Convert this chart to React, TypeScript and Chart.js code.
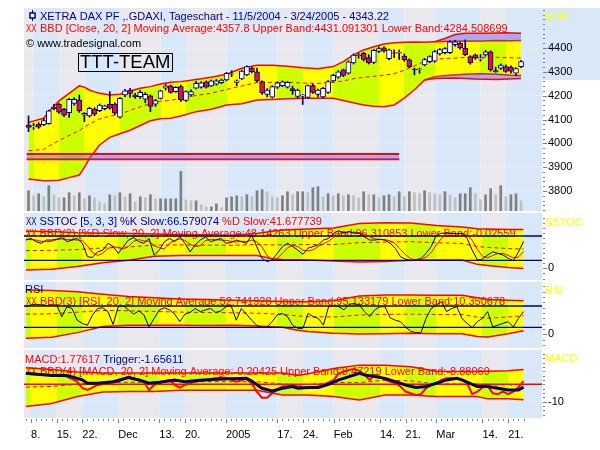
import React, { useEffect, useRef } from 'react';
import { Chart, registerables } from 'chart.js';
Chart.register(...registerables);

// ---------------- DATA ----------------
const xTickIndex = [1, 6, 11, 18, 26, 31, 39, 49, 54, 60, 69, 74, 80, 89, 94];
const xTickLabels = ['8.', '15.', '22.', 'Dec', '13.', '20.', '2005', '17.', '24.', 'Feb', '14.', '21.', 'Mar', '14.', '21.'];

const open = [4077,4070,4080,4078,4083,4152,4164,4143,4129,4167,4182,4118,4115,4144,4137,4145,4164,4165,4110,4203,4224,4203,4196,4185,4199,4164,4189,4231,4241,4217,4238,4180,4203,4231,4236,4258,4241,4248,4255,4266,4290,4256,4270,4287,4315,4300,4259,4205,4194,4236,4242,4236,4230,4197,4198,4193,4242,4205,4195,4214,4262,4278,4308,4294,4337,4370,4378,4360,4340,4386,4401,4355,4380,4378,4366,4350,4312,4310,4329,4343,4345,4375,4380,4380,4414,4420,4400,4364,4371,4355,4371,4384,4305,4315,4322,4320,4294,4322];
const high = [4115,4084,4087,4105,4140,4164,4168,4147,4188,4192,4203,4129,4152,4150,4165,4160,4217,4170,4192,4227,4231,4210,4222,4213,4203,4185,4223,4249,4245,4238,4245,4220,4225,4260,4258,4262,4266,4268,4270,4298,4305,4266,4308,4325,4320,4316,4262,4230,4242,4258,4262,4260,4240,4228,4205,4245,4248,4228,4235,4263,4290,4305,4312,4346,4375,4378,4382,4372,4395,4405,4405,4396,4392,4392,4375,4355,4316,4316,4357,4368,4390,4398,4402,4430,4432,4425,4434,4368,4375,4373,4390,4388,4320,4333,4330,4325,4318,4348];
const low = [4049,4059,4063,4074,4080,4140,4126,4112,4109,4160,4130,4091,4110,4116,4133,4140,4143,4120,4106,4196,4193,4188,4188,4170,4133,4155,4186,4224,4210,4214,4176,4176,4197,4228,4232,4232,4238,4244,4250,4262,4280,4242,4268,4284,4296,4258,4205,4195,4190,4230,4238,4232,4205,4190,4163,4190,4210,4195,4190,4210,4258,4273,4280,4290,4333,4357,4345,4333,4335,4380,4383,4350,4360,4352,4345,4318,4287,4294,4325,4338,4340,4370,4375,4376,4408,4395,4368,4332,4352,4345,4366,4303,4298,4310,4298,4295,4285,4318];
const close = [4067,4073,4068,4095,4136,4146,4131,4118,4185,4185,4136,4126,4147,4122,4161,4157,4148,4127,4189,4220,4210,4195,4214,4206,4155,4179,4220,4241,4214,4235,4182,4217,4217,4252,4254,4236,4262,4262,4266,4294,4292,4262,4303,4322,4301,4262,4212,4224,4238,4254,4258,4256,4221,4224,4203,4242,4214,4224,4231,4259,4285,4300,4285,4342,4370,4368,4352,4338,4390,4398,4388,4392,4378,4382,4350,4322,4308,4313,4352,4364,4385,4394,4398,4426,4426,4400,4372,4337,4358,4358,4384,4308,4300,4328,4302,4303,4314,4343.22];
const volume = [20,15,17,14,25,16,13,13,18,15,18,12,15,13,9,7,16,15,18,14,17,9,14,13,16,12,12,12,12,12,39,11,10,10,6,4,4,7,3,13,14,15,14,16,14,20,21,19,14,13,15,19,16,19,19,18,23,24,14,17,15,17,15,16,15,13,19,16,16,13,15,16,14,19,14,19,18,17,20,18,17,16,19,16,13,17,17,23,17,11,16,22,16,25,14,16,17,10];

// Bollinger band on price (sampled days)
const bandIdx = [0,3,4,6,8,10,11,12,13,14,16,18,20,22,24,26,28,30,33,36,39,42,45,48,51,54,57,60,62,64,66,68,70,72,74,76,78,80,83,86,89,92,95,97];
const bandUpper = [4088,4105,4133,4178,4210,4241,4236,4224,4216,4210,4203,4206,4220,4231,4238,4249,4256,4259,4268,4277,4290,4315,4328,4328,4324,4317,4313,4322,4343,4371,4392,4405,4417,4422,4424,4425,4424,4426,4428,4430,4430,4432,4431,4431.09];
const bandLower = [3850,3843,3843,3845,3856,3867,3899,3937,3965,3993,4025,4040,4055,4075,4095,4103,4105,4115,4133,4143,4161,4166,4182,4184,4187,4189,4189,4189,4180,4170,4161,4156,4154,4161,4190,4225,4266,4280,4286,4290,4292,4290,4286,4284.51];
const bandMid = [3969,3974,3988,4012,4033,4054,4068,4081,4091,4102,4114,4123,4138,4153,4167,4176,4181,4187,4201,4210,4226,4241,4255,4256,4256,4253,4251,4256,4262,4271,4277,4281,4286,4292,4307,4325,4345,4353,4357,4360,4361,4361,4359,4357.8];
const outerUpperIdx = [80, 82, 84, 86, 90, 94, 97];
const outerUpper = [4426, 4440, 4457, 4462, 4462, 4464, 4462];
const outerLowerIdx = [78, 80, 84, 88, 92, 97];
const outerLower = [4266, 4272, 4274, 4270, 4268, 4272];
const zoneLevels = [3955, 3933];
const zoneEnd = 73;

// Slow stochastic
const stochK = [70,74,66,62,70,70,72,76,66,70,74,62,29,27,41,45,62,54,37,54,70,76,66,62,74,33,45,66,74,66,78,62,41,58,70,78,66,70,74,62,64,70,66,62,82,54,25,17,21,37,54,62,54,45,35,50,54,58,70,74,87,93,87,91,87,87,78,70,70,72,70,62,50,29,23,19,21,25,37,54,82,87,87,87,85,87,74,45,21,23,33,41,37,33,25,19,40,66.58];
const stochD = [72,71,70,67,66,67,71,73,71,71,70,69,55,39,32,38,49,54,51,48,54,67,71,68,67,56,51,48,62,69,73,69,60,54,56,69,71,71,70,69,67,65,67,66,70,66,54,32,21,25,37,51,57,54,45,43,46,54,61,67,77,85,89,90,88,88,84,78,73,71,71,68,61,47,34,24,21,22,28,39,58,74,85,87,86,86,82,69,47,30,26,32,37,37,32,26,28,41.68];
const stochLevels = [80, 20];
const oscBandIdx = [0,5,10,15,20,25,30,35,40,45,48,50,55,60,65,70,75,80,85,88,90,94,97];
const stochUpper = [92,91,88,87,86,85,84,83,82,86,92,95,97,100,111,113,112,106,102,98,97,96,96.31];
const stochLower = [-4,-2,5,14,20,30,32,32,32,32,24,22,21,18,16,17,20,21,21,10,7,2,-0.03];
const stochMid = [44,44.5,46.5,50.5,53,57.5,58,57.5,57,59,58,58.5,59,59,63.5,65,66,63.5,61.5,54,52,49,48.14];

// RSI
const rsi = [78,83,85,83,81,83,83,50,78,73,40,31,26,55,73,75,64,28,78,81,69,57,66,55,21,45,69,75,69,57,36,57,62,73,64,69,73,62,66,78,81,40,73,57,40,26,19,20,36,55,59,50,26,17,17,59,50,45,26,78,81,78,69,85,87,83,64,50,69,78,78,47,40,36,21,9,5,5,45,73,83,92,64,73,78,45,31,19,36,45,64,21,26,31,36,21,45,64];
const rsiLevels = [80, 20];
const bandIdx2 = [0,5,10,15,20,25,30,35,40,45,50,53,55,60,65,70,75,80,85,88,90,94,97];
const rsiUpper = [125,124,120,113,107,103,100,98,96,95,93,92,92,95,108,111,111,110,110,103,98,96,95.13];
const rsiLower = [-11,-8,5,22,26,26,26,25,26,24,20,12,8,3,1,2,3,2,2,-6,-7,2,10.35];
const rsiMid = [57,58,62.5,67.5,66.5,64.5,63,61.5,61,59.5,56.5,52,50,49,54.5,56.5,57,56,56,48.5,45.5,49,52.74];

// MACD
const macdIdx = [0,1,4,7,8,10,11,12,14,16,18,20,21,23,24,25,27,28,29,30,31,33,35,37,39,41,43,44,45,46,47,48,50,52,53,55,57,58,60,61,63,64,65,66,67,68,69,70,72,73,74,76,77,78,79,80,81,82,84,85,86,87,88,89,90,91,92,93,94,95,96,97];
const macdVal = [6.3,5.7,5.4,5.0,4.4,1.5,-2.3,-3.3,-0.4,0.6,1.5,4.4,3.4,1.5,-3.3,-0.4,1.5,2.5,-0.4,-1.9,-0.4,1.5,2.5,3.4,3.8,1.5,3.1,0.6,-4.2,-7.7,-7.7,-5.2,-1.3,-0.8,-1.3,-2.3,-1.3,-0.4,2.5,6.3,8.2,8.8,7.7,5.4,2.5,5.4,4.4,2.5,0.6,-1.3,-4.2,-6.1,-5.7,-2.3,-0.4,0.6,2.5,3.4,3.4,2.5,0.6,-5.7,-4.2,-1.9,-0.8,-5.2,-5.7,-4.2,-5.7,-4.2,-1.9,1.78];
const trigIdx = [0,5,8,11,12,14,17,20,22,24,26,29,31,34,37,40,43,44,46,48,50,52,53,55,57,59,61,63,65,66,68,70,72,74,76,78,80,82,84,85,87,88,90,92,94,96,97];
const trigVal = [6.3,5.0,5.0,2.5,0.6,0.6,1.5,3.8,2.5,0.6,1.2,2.5,1.5,2.3,2.9,3.1,3.4,1.9,-2.3,-3.8,-2.3,-1.3,-2.3,-1.9,-1.9,0,2.5,4.4,6.3,5.4,4.4,3.4,1.5,-0.4,-1.9,-1.3,0.6,2.5,3.4,2.5,0,-1.3,-1.3,-2.3,-3.3,-3.3,-1.66];
const macdUpper = [9.5,8.5,7,6.5,6.5,6.5,6.5,6.5,6.5,6.5,6.5,5,6,9,11,11,10,7.5,7.3,7.3,7.5,7.8,8.47];
const macdLower = [-12.8,-11,-7,-4.5,-4.2,-4.2,-3.5,-3.5,-3.5,-3.5,-6.2,-6.2,-6.2,-7,-9.1,-6.2,-6.2,-7.1,-7.1,-7.1,-8.4,-8.4,-8.88];
const macdMid = [-1.65,-1.25,0,1,1.15,1.15,1.5,1.5,1.5,1.5,0.15,-0.6,-0.1,1,0.95,2.4,1.9,0.2,0.1,0.1,-0.45,-0.3,-0.2];
const macdZero = [0];

const priceTickLabels = [3800, 3900, 4000, 4100, 4200, 4300, 4400];

// ---------------- STYLE ----------------
const FAM = "'Liberation Sans', Arial, sans-serif";
const NAVY = '#000080';
const RED = '#FF0000';
const BODY_RED = '#DC143C';
const YELLOW = '#FFFF00';
const LIME = '#CCFF00';
const STRIPE_BLUE = '#D8E8F8';
const STRIPE_GRAY = '#E8E8EE';
const LAVENDER = 'rgba(110,110,235,0.5)';
const XMIN = -0.37;
const XMAX = 100.6;

const idx = close.map((_, i) => i);
const pts = (ix: number[], vals: number[]) => ix.map((x, k) => ({ x, y: vals[k] }));

function stripeFill(chart: any) {
  const { ctx, chartArea, scales } = chart;
  if (!chartArea || !scales || !scales.x) return YELLOW;
  const L = chartArea.left, R = chartArea.right, W = R - L;
  const g = ctx.createLinearGradient(L, 0, R, 0);
  const stops = xTickIndex.map((v) => Math.min(1, Math.max(0, (scales.x.getPixelForValue(v) - L) / W)));
  stops.push(1);
  let from = 0;
  let blue = false;
  for (const s of stops) {
    const col = blue ? YELLOW : LIME;
    g.addColorStop(from, col);
    g.addColorStop(s, col);
    from = s;
    blue = !blue;
  }
  return g;
}

const stripesPlugin = (extra?: (ctx: any, chart: any) => void) => ({
  id: 'stripes',
  beforeDraw(chart: any) {
    const { ctx, chartArea: a, scales } = chart;
    ctx.save();
    if (extra) extra(ctx, chart);
    let prev = a.left;
    let blue = false;
    for (const b of xTickIndex) {
      const px = scales.x.getPixelForValue(b);
      ctx.fillStyle = blue ? STRIPE_BLUE : STRIPE_GRAY;
      ctx.fillRect(prev, a.top, px - prev, a.bottom - a.top);
      prev = px;
      blue = !blue;
    }
    ctx.fillStyle = blue ? STRIPE_BLUE : STRIPE_GRAY;
    ctx.fillRect(prev, a.top, a.right - prev, a.bottom - a.top);
    ctx.restore();
  },
});

type Seg = { t: string; c: string };
type TextLine = { x: number; y: number; segs: Seg[]; size?: number; sx?: number };

// Legend texts are drawn right after the band fill (dataset 0), so the
// remaining lines cross over them as in the original.
const textPlugin = (lines: TextLine[], extra?: (ctx: any) => void) => ({
  id: 'panelText',
  afterDatasetDraw(chart: any, args: any) {
    if (args.index !== 0) return;
    const ctx = chart.ctx;
    ctx.save();
    ctx.textBaseline = 'alphabetic';
    ctx.textAlign = 'left';
    for (const ln of lines) {
      ctx.font = `${ln.size ?? 11}px ${FAM}`;
      ctx.save();
      ctx.translate(ln.x, ln.y);
      ctx.scale(ln.sx ?? 1, 1);
      let x = 0;
      for (const s of ln.segs) {
        ctx.fillStyle = s.c;
        ctx.fillText(s.t, x, 0);
        x += ctx.measureText(s.t).width;
      }
      ctx.restore();
    }
    if (extra) extra(ctx);
    ctx.restore();
  },
});

const tickMarks = (yId: string, majors: number[], withX: boolean) => ({
  id: 'tickMarks',
  afterDraw(chart: any) {
    const { ctx, chartArea: a } = chart;
    const ys = chart.scales[yId];
    ctx.save();
    ctx.fillStyle = '#808080';
    for (const t of ys.ticks) {
      const py = Math.round(ys.getPixelForValue(t.value));
      ctx.fillRect(Math.round(a.right) + 1, py, majors.includes(t.value) ? 4 : 2, 1);
    }
    if (withX) {
      const xs = chart.scales.x;
      for (const i of idx) {
        const px = Math.round(xs.getPixelForValue(i));
        ctx.fillRect(px, Math.round(a.bottom) + 1, 1, xTickIndex.includes(i) ? 4 : 2);
      }
    }
    ctx.restore();
  },
});

function xScale(show: boolean) {
  return {
    type: 'linear',
    min: XMIN,
    max: XMAX,
    display: show,
    afterBuildTicks: (s: any) => {
      s.ticks = idx.map((v) => ({ value: v }));
    },
    afterFit: (s: any) => {
      if (show) s.height = 32;
      s.paddingLeft = 0;
      s.paddingRight = 0;
    },
    ticks: {
      autoSkip: false,
      maxRotation: 0,
      minRotation: 0,
      align: 'start',
      padding: 10,
      color: '#000',
      font: { family: FAM, size: 11 },
      callback: (v: number) => {
        const k = xTickIndex.indexOf(v);
        return k < 0 ? '' : xTickLabels[k];
      },
    },
    grid: { display: false, drawOnChartArea: false, drawTicks: false },
    border: { display: false },
  };
}

function yAxis(min: number, max: number, start: number, step: number, labeled: number[]) {
  return {
    type: 'linear',
    position: 'right',
    min,
    max,
    bounds: 'data',
    afterBuildTicks: (s: any) => {
      const t: any[] = [];
      for (let k = 0; start + k * step <= max; k++) {
        const v = start + k * step;
        if (v >= min) t.push({ value: v });
      }
      s.ticks = t;
    },
    afterFit: (s: any) => {
      s.width = 58;
      s.paddingTop = 0;
      s.paddingBottom = 0;
    },
    ticks: {
      autoSkip: false,
      padding: 6,
      color: '#000',
      font: { family: FAM, size: 11 },
      callback: (v: number) => (labeled.includes(v) ? String(v) : ''),
    },
    grid: {
      drawTicks: false,
      drawOnChartArea: true,
      color: (c: any) => (c.tick && labeled.includes(c.tick.value) ? 'rgba(255,255,255,0.9)' : 'rgba(0,0,0,0)'),
    },
    border: { display: false, dash: [1, 3] },
  };
}

function baseOptions(topPad: number, scales: any) {
  return {
    responsive: false,
    maintainAspectRatio: false,
    animation: false,
    devicePixelRatio: 1,
    events: [],
    layout: { padding: { left: 24, right: 0, top: topPad, bottom: 0 } },
    plugins: { legend: { display: false }, tooltip: { enabled: false }, colors: { enabled: false } },
    elements: { point: { radius: 0 }, line: { tension: 0 } },
    scales,
  };
}

const lineDs = (label: string, data: any[], color: string, width: number, order: number, extra: any = {}) => ({
  type: 'line',
  label,
  data,
  borderColor: color,
  borderWidth: width,
  pointRadius: 0,
  fill: false,
  order,
  ...extra,
});

const bandFill = { fill: '+1', backgroundColor: (c: any) => stripeFill(c.chart) };
const levelLine = (v: number) => [
  { x: XMIN, y: v },
  { x: XMAX, y: v },
];

function mainConfig() {
  return {
    type: 'line',
    data: {
      datasets: [
        lineDs('Upper Band', pts(bandIdx, bandUpper), RED, 1.5, 10, bandFill),
        lineDs('Lower Band', pts(bandIdx, bandLower), RED, 1.5, 9),
        lineDs('Outer Upper', pts(outerUpperIdx, outerUpper), RED, 1.5, 8, { fill: { target: 0 }, backgroundColor: LAVENDER }),
        lineDs('Outer Lower', pts(outerLowerIdx, outerLower), RED, 1.5, 8, { fill: { target: 1 }, backgroundColor: LAVENDER }),
        lineDs('Zone Top', [{ x: XMIN, y: zoneLevels[0] }, { x: zoneEnd, y: zoneLevels[0] }], RED, 2, 7, { fill: '+1', backgroundColor: LAVENDER }),
        lineDs('Zone Bottom', [{ x: XMIN, y: zoneLevels[1] }, { x: zoneEnd, y: zoneLevels[1] }], RED, 2, 7),
        lineDs('Moving Average', pts(bandIdx, bandMid), RED, 1, 6, { borderDash: [4, 3] }),
        {
          type: 'bar',
          label: 'Volume',
          yAxisID: 'yVol',
          data: idx.map((i) => ({ x: i, y: volume[i] })),
          backgroundColor: idx.map((i) => (i === 0 || volume[i] >= volume[i - 1] ? '#808080' : '#C0C0C0')),
          barThickness: 2,
          grouped: false,
          order: 12,
        },
        {
          type: 'bar',
          label: 'Range',
          data: idx.map((i) => ({ x: i, y: [low[i], high[i]] })),
          backgroundColor: NAVY,
          barThickness: 1,
          grouped: false,
          order: 2,
        },
        {
          type: 'bar',
          label: 'Body',
          data: idx.map((i) => ({ x: i, y: [open[i], close[i]] })),
          backgroundColor: idx.map((i) => (close[i] >= open[i] ? '#FFFFFF' : BODY_RED)),
          borderColor: NAVY,
          borderWidth: 1,
          borderSkipped: false,
          barThickness: 5,
          grouped: false,
          order: 1,
        },
      ],
    },
    options: baseOptions(8, {
      x: xScale(false),
      y: yAxis(3716, 4568, 3720, 20, priceTickLabels),
      yVol: { type: 'linear', display: false, min: 0, max: 200 },
    }),
    plugins: [
      stripesPlugin((ctx: any, chart: any) => {
        const a = chart.chartArea;
        ctx.fillStyle = STRIPE_BLUE;
        ctx.fillRect(a.right, a.top, 600 - a.right, 72);
      }),
      textPlugin(
        [
          { x: 40, y: 20, segs: [{ t: 'XETRA DAX PF ,.GDAXI, Tageschart - 11/5/2004 - 3/24/2005 - 4343.22', c: NAVY }] },
          { x: 26, y: 32, segs: [{ t: 'XX', c: RED }], sx: 0.72 },
          { x: 40, y: 32, segs: [{ t: 'BBD [Close, 20, 2] Moving Average:4357.8 Upper Band:4431.091301 Lower Band:4284.508699', c: RED }] },
          { x: 26, y: 47, segs: [{ t: '© www.tradesignal.com', c: '#000' }] },
          { x: 80, y: 67.5, segs: [{ t: 'TTT-TEAM', c: '#000' }], size: 18.5 },
          { x: 545, y: 20, segs: [{ t: 'EUR', c: YELLOW }] },
        ],
        (ctx: any) => {
          ctx.strokeStyle = '#000';
          ctx.lineWidth = 1;
          ctx.strokeRect(78.5, 53.5, 94, 18);
          // candle icon before the title
          ctx.strokeStyle = NAVY;
          ctx.beginPath();
          ctx.moveTo(32.5, 10);
          ctx.lineTo(32.5, 21);
          ctx.stroke();
          ctx.fillStyle = '#FFFFFF';
          ctx.fillRect(30, 13, 5, 5);
          ctx.lineWidth = 1.5;
          ctx.strokeRect(30, 13, 5, 5);
        }
      ),
      tickMarks('y', priceTickLabels, false),
    ],
  };
}

function stochConfig() {
  return {
    type: 'line',
    data: {
      datasets: [
        lineDs('BBD Upper', pts(oscBandIdx, stochUpper), RED, 1.5, 10, bandFill),
        lineDs('BBD Lower', pts(oscBandIdx, stochLower), RED, 1.5, 9),
        lineDs('BBD Mid', pts(oscBandIdx, stochMid), RED, 1, 6, { borderDash: [4, 3] }),
        lineDs('Level 80', levelLine(stochLevels[0]), NAVY, 1.3, 5),
        lineDs('Level 20', levelLine(stochLevels[1]), NAVY, 1.3, 5),
        lineDs('%D Slow', idx.map((i) => ({ x: i, y: stochD[i] })), RED, 1, 3),
        lineDs('%K Slow', idx.map((i) => ({ x: i, y: stochK[i] })), NAVY, 1, 2),
      ],
    },
    options: baseOptions(0, { x: xScale(false), y: yAxis(-28.6, 136.8, -25, 12.5, [0]) }),
    plugins: [
      stripesPlugin(),
      textPlugin([
        { x: 26, y: 11.5, segs: [{ t: 'XX', c: NAVY }], sx: 0.72 },
        { x: 39.5, y: 11.5, segs: [{ t: 'SSTOC [5, 3, 3] %K Slow:66.579074', c: NAVY }, { t: ' %D Slow:41.677739', c: RED }] },
        { x: 26, y: 23.7, segs: [{ t: 'XX', c: RED }], sx: 0.72 },
        { x: 39.5, y: 23.7, segs: [{ t: 'BBD(2) [%D Slow, 20, 2] Moving Average:48.14263 Upper Band:96.310853 Lower Band:-0.02559', c: RED }] },
        { x: 545, y: 13, segs: [{ t: 'SSTOC', c: YELLOW }] },
      ]),
      tickMarks('y', [0], false),
    ],
  };
}

function rsiConfig() {
  return {
    type: 'line',
    data: {
      datasets: [
        lineDs('BBD Upper', pts(bandIdx2, rsiUpper), RED, 1.5, 10, bandFill),
        lineDs('BBD Lower', pts(bandIdx2, rsiLower), RED, 1.5, 9),
        lineDs('BBD Mid', pts(bandIdx2, rsiMid), RED, 1, 6, { borderDash: [4, 3] }),
        lineDs('Level 80', levelLine(rsiLevels[0]), NAVY, 1.3, 5),
        lineDs('Level 20', levelLine(rsiLevels[1]), NAVY, 1.3, 5),
        lineDs('RSI', idx.map((i) => ({ x: i, y: rsi[i] })), NAVY, 1, 2),
      ],
    },
    options: baseOptions(0, { x: xScale(false), y: yAxis(-38.3, 147.6, -30, 15, [0]) }),
    plugins: [
      stripesPlugin(),
      textPlugin([
        { x: 25, y: 11.3, segs: [{ t: 'RSI', c: NAVY }] },
        { x: 26, y: 23, segs: [{ t: 'XX', c: RED }], sx: 0.72 },
        { x: 40, y: 23, segs: [{ t: 'BBD(3) [RSI, 20, 2] Moving Average:52.741928 Upper Band:95.133179 Lower Band:10.350678', c: RED }] },
        { x: 545, y: 12, segs: [{ t: 'RSI', c: YELLOW }] },
      ]),
      tickMarks('y', [0], false),
    ],
  };
}

function macdConfig() {
  return {
    type: 'line',
    data: {
      datasets: [
        lineDs('BBD Upper', pts(bandIdx2, macdUpper), RED, 1.5, 10, bandFill),
        lineDs('BBD Lower', pts(bandIdx2, macdLower), RED, 1.5, 9),
        lineDs('BBD Mid', pts(bandIdx2, macdMid), RED, 1, 6, { borderDash: [4, 3] }),
        lineDs('Zero', levelLine(macdZero[0]), RED, 1.3, 5),
        lineDs('MACD', pts(macdIdx, macdVal), RED, 2, 3),
        lineDs('Trigger', pts(trigIdx, trigVal), NAVY, 3, 2),
      ],
    },
    options: baseOptions(0, { x: xScale(true), y: yAxis(-19.4, 19.7, -17.5, 2.5, [-10]) }),
    plugins: [
      stripesPlugin(),
      textPlugin([
        { x: 25, y: 12.7, segs: [{ t: 'MACD:1.77617', c: RED }, { t: ' Trigger:-1.65611', c: NAVY }] },
        { x: 26, y: 25, segs: [{ t: 'XX', c: RED }], sx: 0.72 },
        { x: 40, y: 25, segs: [{ t: 'BBD(4) [MACD, 20, 2] Moving Average:-0.20425 Upper Band:8.47219 Lower Band:-8.88069', c: RED }] },
        { x: 545, y: 12, segs: [{ t: 'MACD', c: YELLOW }] },
      ]),
      tickMarks('y', [-10], true),
    ],
  };
}

export default function App() {
  const r1 = useRef<HTMLCanvasElement>(null);
  const r2 = useRef<HTMLCanvasElement>(null);
  const r3 = useRef<HTMLCanvasElement>(null);
  const r4 = useRef<HTMLCanvasElement>(null);

  useEffect(() => {
    const charts = [
      new Chart(r1.current as any, mainConfig() as any),
      new Chart(r2.current as any, stochConfig() as any),
      new Chart(r3.current as any, rsiConfig() as any),
      new Chart(r4.current as any, macdConfig() as any),
    ];
    return () => charts.forEach((c) => c.destroy());
  }, []);

  const cv = (h: number) => ({ display: 'block', width: 600, height: h });
  return (
    <div style={{ position: 'absolute', left: 0, top: 0, width: 600, height: 450, background: '#FFFFFF' }}>
      <canvas ref={r1} width={600} height={211} style={cv(211)} />
      <div style={{ height: 2 }} />
      <canvas ref={r2} width={600} height={67} style={cv(67)} />
      <div style={{ height: 2 }} />
      <canvas ref={r3} width={600} height={66} style={cv(66)} />
      <div style={{ height: 2 }} />
      <canvas ref={r4} width={600} height={100} style={cv(100)} />
    </div>
  );
}
